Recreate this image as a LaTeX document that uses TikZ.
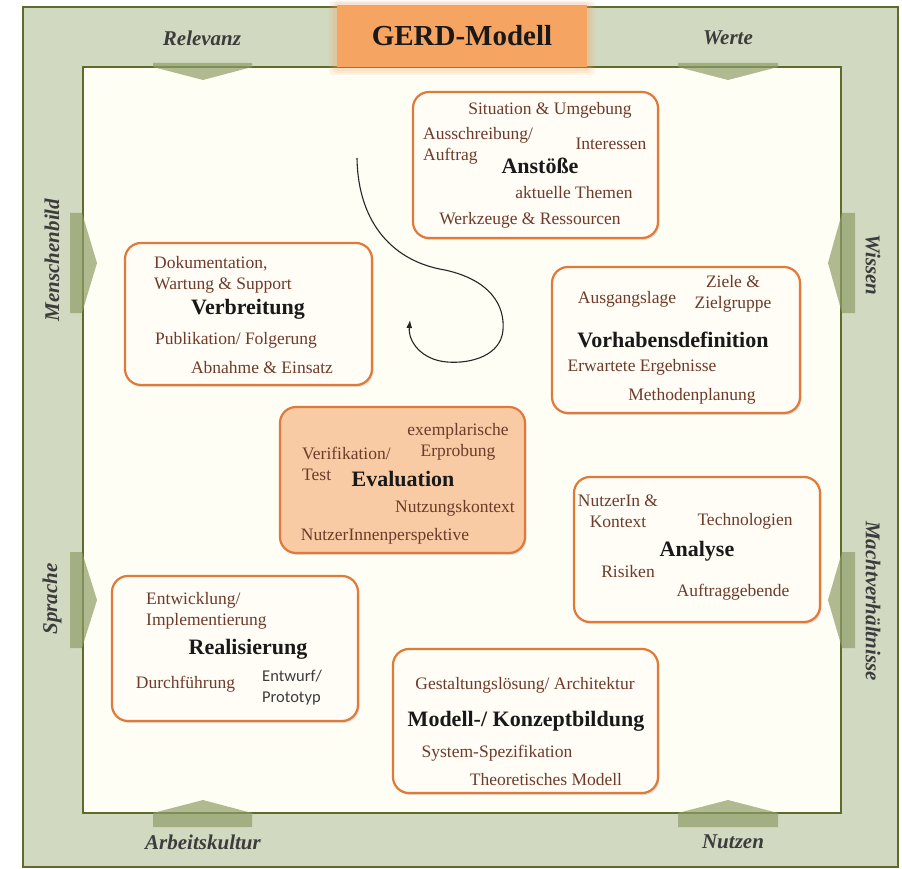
\documentclass[tikz,border=0pt]{standalone}
\usepackage{fontspec}
\setmainfont{Liberation Serif}
\newfontfamily\sansCal{Carlito}
\usetikzlibrary{arrows.meta,shadows}
\definecolor{frameG}{HTML}{D1D9C1}
\definecolor{frameB}{HTML}{5E6B2B}
\definecolor{innerF}{HTML}{FFFEF4}
\definecolor{chevC}{HTML}{8F9E68}
\definecolor{boxOr}{HTML}{E07A3A}
\definecolor{boxF}{HTML}{FFFDF6}
\definecolor{evalF}{HTML}{F9CBA4}
\definecolor{titleF}{HTML}{F5A461}
\definecolor{txtBrown}{HTML}{6E3B2B}
\definecolor{lblGrey}{HTML}{3C3C3C}
\begin{document}
\begin{tikzpicture}[x=1pt,y=-1pt,
  lbl/.style={text=txtBrown, font=\fontsize{17.5}{21}\selectfont, inner sep=0pt, align=center},
  ttl/.style={text=black!90, font=\fontsize{22}{24}\selectfont\bfseries, inner sep=0pt},
  frmlbl/.style={text=lblGrey, font=\fontsize{21}{23}\selectfont\bfseries\itshape, inner sep=0pt},
  box/.style={draw=boxOr, line width=2.2pt, rounded corners=16pt, fill=boxF,
    drop shadow={shadow xshift=1.5pt, shadow yshift=-2pt, opacity=0.25}},
  chev/.style={fill=chevC, fill opacity=0.7},
  glow/.style={fill=titleF, opacity=0.12, rounded corners=4pt},
  spiral/.style={draw=black!85, line width=1.1pt, -{Latex[length=8pt,width=6pt]}}
]
\useasboundingbox (0,0) rectangle (902,869);
\fill[white] (0,0) rectangle (902,869);
% frame
\draw[frameB, line width=2pt, fill=frameG] (23,7) rectangle (898,867);
\draw[frameB, line width=2pt, fill=innerF] (83,67) rectangle (841,813);
% title with soft glow
\fill[glow] (329,1) rectangle (595,75);
\fill[glow] (332,2) rectangle (592,73);
\fill[glow] (334,3) rectangle (590,71);
\node[fill=titleF, minimum width=250pt, minimum height=62pt, inner sep=0pt,
  font=\fontsize{29}{32}\selectfont\bfseries, text=black!90] (title) at (462,36) {GERD-Modell};
% chevrons top
\fill[chev] (153,63) -- (252,63) -- (252,67) -- (203,80) -- (153,67) -- cycle;
\fill[chev] (678,63) -- (778,63) -- (778,67) -- (728,80) -- (678,67) -- cycle;
% chevrons bottom
\fill[chev] (153,827) -- (252,827) -- (252,813) -- (203,800) -- (153,813) -- cycle;
\fill[chev] (678,827) -- (778,827) -- (778,813) -- (728,800) -- (678,813) -- cycle;
% chevrons left
\fill[chev] (70,213) -- (82,213) -- (97,263) -- (82,313) -- (70,313) -- cycle;
\fill[chev] (70,552) -- (82,552) -- (97,600) -- (82,648) -- (70,648) -- cycle;
% chevrons right
\fill[chev] (855,213) -- (842,213) -- (828,263) -- (842,313) -- (855,313) -- cycle;
\fill[chev] (855,552) -- (842,552) -- (828,600) -- (842,648) -- (855,648) -- cycle;
% frame labels
\node[frmlbl] (lRel) at (202,38) {Relevanz};
\node[frmlbl] (lWer) at (728,38) {Werte};
\node[frmlbl] (lArb) at (203,842) {Arbeitskultur};
\node[frmlbl] (lNut) at (733,842) {Nutzen};
\node[frmlbl, rotate=90] (lMen) at (52,260) {Menschenbild};
\node[frmlbl, rotate=90] (lSpr) at (52,599) {Sprache};
\node[frmlbl, rotate=-90] (lWis) at (873,265) {Wissen};
\node[frmlbl, rotate=-90] (lMac) at (873,601) {Machtverhältnisse};

% boxes
\node[box, minimum width=245pt, minimum height=146pt] (bAns) at (535.5,165) {};
\node[box, minimum width=247pt, minimum height=142pt] (bVer) at (248.5,314) {};
\node[box, minimum width=248pt, minimum height=146pt] (bVor) at (676,340) {};
\node[box, fill=evalF, minimum width=245pt, minimum height=146pt] (bEva) at (402.5,480) {};
\node[box, minimum width=246pt, minimum height=145pt] (bAna) at (697,549.5) {};
\node[box, minimum width=246pt, minimum height=145pt] (bRea) at (235,648.5) {};
\node[box, minimum width=265pt, minimum height=144pt] (bMod) at (525.5,721) {};

% Anstoesse
\node[lbl] (a1) at (550,110) {Situation \& Umgebung};
\node[lbl, align=left, anchor=west] (a2) at (423,146) {Ausschreibung/\\Auftrag};
\node[lbl] (a3) at (611,144) {Interessen};
\node[ttl] (a0) at (540,166) {Anstöße};
\node[lbl] (a4) at (574,193) {aktuelle Themen};
\node[lbl] (a5) at (530,220) {Werkzeuge \& Ressourcen};

% Verbreitung
\node[lbl, align=left, anchor=west] (v1) at (154,274.5) {Dokumentation,\\Wartung \& Support};
\node[ttl] (v0) at (248,309) {Verbreitung};
\node[lbl] (v2) at (236,340) {Publikation/ Folgerung};
\node[lbl] (v3) at (262,368) {Abnahme \& Einsatz};

% Vorhabensdefinition
\node[lbl] (d1) at (627,299) {Ausgangslage};
\node[lbl] (d2) at (733,294) {Ziele \&\\Zielgruppe};
\node[ttl] (d0) at (673,340) {Vorhabensdefinition};
\node[lbl] (d3) at (642,367) {Erwartete Ergebnisse};
\node[lbl] (d4) at (692,396) {Methodenplanung};

% Evaluation
\node[lbl] (e1) at (458,442) {exemplarische\\Erprobung};
\node[lbl, align=left, anchor=west] (e2) at (302,464) {Verifikation/\\Test};
\node[ttl] (e0) at (403,479) {Evaluation};
\node[lbl] (e3) at (455,508) {Nutzungskontext};
\node[lbl] (e4) at (385,536) {NutzerInnenperspektive};

% Analyse
\node[lbl] (n1) at (618,511) {NutzerIn \&\\Kontext};
\node[lbl] (n2) at (745,521) {Technologien};
\node[ttl] (n0) at (697,551) {Analyse};
\node[lbl] (n3) at (628,572) {Risiken};
\node[lbl] (n4) at (733,592) {Auftraggebende};

% Realisierung
\node[lbl, align=left, anchor=west] (r1) at (146,611) {Entwicklung/\\Implementierung};
\node[ttl] (r0) at (248,649) {Realisierung};
\node[lbl] (r2) at (185.5,684) {Durchführung};
\node[lbl, align=left, anchor=west, text=lblGrey, font=\sansCal\fontsize{16.5}{21}\selectfont] (r3) at (262,687.5) {Entwurf/\\Prototyp};

% Modell
\node[lbl] (m1) at (525,685) {Gestaltungslösung/ Architektur};
\node[ttl] (m0) at (526,721) {Modell-/ Konzeptbildung};
\node[lbl] (m2) at (497,753) {System-Spezifikation};
\node[lbl] (m3) at (546,780) {Theoretisches Modell};

% spiral arrow
\coordinate (s0) at (357,158);
\coordinate (s1) at (445,270);
\coordinate (s2) at (503,330);
\coordinate (s3) at (447,362);
\coordinate (s4) at (410,320);
\draw[spiral] (s0) .. controls (358,225) and (395,262) .. (s1)
  .. controls (490,280) and (505,305) .. (s2)
  .. controls (501,355) and (472,364) .. (s3)
  .. controls (422,360) and (408,342) .. (s4);
\end{tikzpicture}
\end{document}
